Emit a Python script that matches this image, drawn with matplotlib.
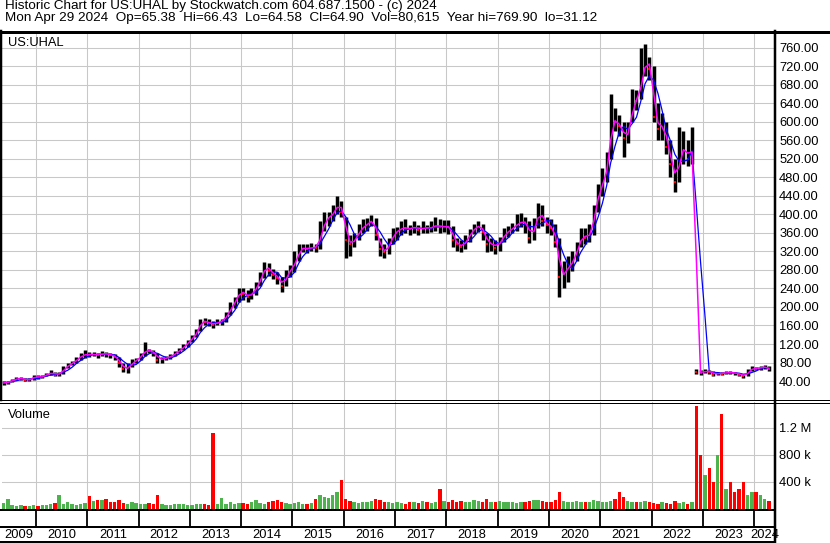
import pandas as pd
import matplotlib.pyplot as plt
from matplotlib.lines import Line2D

plt.rcParams['font.family'] = ['Liberation Sans', 'DejaVu Sans']

# monthly bars, May 2009 .. Apr 2024
months = pd.date_range("2009-05-01", "2024-04-01", freq="MS") + pd.Timedelta(days=14)

close = [
    36, 38, 43, 45, 46, 41, 44, 50,                                  # 2009
    48, 50, 55, 58, 54, 56, 68, 75, 80, 88, 95, 98,                  # 2010
    97, 98, 96, 100, 98, 96, 92, 78, 65, 70, 82, 86,                 # 2011
    96, 108, 105, 100, 86, 88, 90, 95, 100, 108, 115, 125,           # 2012
    135, 148, 170, 168, 165, 162, 168, 170, 184, 200, 215, 235,      # 2013
    228, 222, 230, 245, 265, 290, 278, 270, 262, 245, 272, 282,      # 2014
    300, 325, 328, 325, 330, 328, 360, 390, 395, 405, 425, 405,      # 2015
    345, 335, 348, 365, 375, 380, 390, 355, 325, 318, 338, 360,      # 2016
    365, 372, 370, 368, 375, 366, 372, 370, 372, 378, 372, 375,      # 2017
    372, 345, 335, 330, 345, 360, 372, 376, 362, 335, 338, 328,      # 2018
    345, 358, 365, 372, 380, 385, 382, 350, 375, 410, 385, 378,      # 2019
    370, 340, 265, 275, 290, 300, 330, 355, 350, 360, 410, 455,      # 2020
    470, 515, 605, 600, 590, 565, 580, 650, 645, 700, 735, 715,      # 2021
    610, 585, 595, 545, 510, 470, 535, 545, 520, 550, 60, 58,        # 2022
    62, 60, 54, 57, 56, 59, 58, 57, 54, 50, 62, 68,                  # 2023
    67, 70, 70, 65,                                                  # 2024
]
high = [
    39, 41, 45, 48, 49, 47, 46, 52,
    52, 53, 58, 63, 60, 60, 72, 80, 84, 92, 100, 107,
    103, 102, 100, 104, 103, 100, 99, 92, 80, 78, 88, 90,
    100, 124, 110, 108, 100, 92, 94, 98, 105, 112, 120, 128,
    140, 152, 175, 176, 174, 170, 175, 175, 190, 210, 222, 240,
    240, 236, 240, 255, 275, 298, 295, 282, 275, 265, 280, 290,
    320, 335, 335, 335, 338, 336, 385, 405, 405, 420, 440, 430,
    395, 355, 360, 380, 390, 392, 398, 392, 350, 335, 350, 370,
    372, 385, 390, 378, 385, 378, 385, 378, 385, 395, 390, 388,
    388, 375, 350, 345, 355, 368, 380, 385, 380, 360, 350, 345,
    352, 370, 375, 382, 400, 402, 395, 385, 392, 425, 420, 395,
    390, 380, 350, 300, 310, 320, 340, 370, 370, 380, 420, 465,
    500, 535, 660, 630, 615, 600, 600, 670, 668, 760, 769, 740,
    720, 640, 620, 600, 560, 520, 589, 580, 560, 589, 65, 64,
    66, 64, 61, 60, 59, 62, 61, 60, 58, 54, 66, 72,
    71, 72, 74, 72,
]
low = [
    31, 34, 37, 42, 42, 39, 40, 43,
    44, 46, 50, 54, 50, 51, 55, 68, 74, 80, 86, 90,
    92, 93, 90, 95, 92, 90, 85, 70, 60, 58, 70, 80,
    85, 95, 100, 95, 78, 80, 85, 88, 94, 100, 108, 114,
    125, 135, 148, 160, 158, 155, 160, 162, 168, 183, 198, 210,
    215, 210, 218, 225, 245, 262, 268, 260, 250, 232, 245, 265,
    275, 300, 318, 316, 320, 318, 325, 365, 375, 385, 400, 395,
    306, 310, 330, 345, 360, 365, 375, 345, 310, 305, 315, 335,
    345, 355, 360, 355, 360, 355, 360, 360, 362, 365, 360, 362,
    358, 330, 322, 318, 325, 340, 358, 362, 345, 318, 322, 315,
    322, 340, 352, 360, 365, 372, 360, 338, 345, 370, 375, 360,
    355, 330, 222, 240, 255, 278, 300, 330, 335, 340, 355, 405,
    440, 470, 520, 580, 570, 525, 555, 600, 625, 650, 700, 690,
    600, 560, 560, 530, 480, 449, 470, 510, 505, 510, 55, 54,
    58, 56, 50, 53, 52, 55, 55, 54, 50, 47, 50, 62,
    63, 64, 66, 62,
]
# biggest weekly volume in each month, thousands of shares
volume_k = [
    90, 150, 60, 50, 60, 45, 50, 60,
    50, 60, 55, 80, 90, 200, 70, 110, 75, 60, 80, 90,
    190, 120, 130, 140, 150, 110, 100, 130, 90, 80, 100, 90,
    80, 70, 90, 70, 200, 80, 60, 60, 70, 70, 80, 60,
    60, 70, 80, 70, 60, 1120, 80, 160, 70, 100, 80, 90,
    90, 80, 100, 140, 90, 80, 100, 120, 140, 110, 90, 80,
    90, 110, 80, 70, 90, 150, 200, 180, 160, 200, 250, 430,
    150, 120, 100, 90, 110, 100, 120, 150, 130, 110, 100, 90,
    100, 90, 80, 110, 100, 90, 120, 100, 90, 110, 300, 120,
    110, 130, 100, 120, 110, 100, 130, 120, 100, 150, 110, 100,
    120, 100, 110, 100, 90, 100, 110, 120, 130, 140, 120, 100,
    110, 130, 250, 120, 110, 100, 120, 110, 100, 110, 130, 120,
    110, 100, 120, 150, 250, 180, 120, 110, 100, 110, 120, 110,
    90, 80, 100, 90, 80, 120, 90, 100, 80, 110, 1530, 800,
    500, 600, 400, 800, 1400, 300, 400, 250, 300, 400, 200, 250,
    250, 200, 150, 120,
]

years = list(range(2009, 2025))
price_ticks = list(range(40, 761, 40))
volume_ticks = [400, 800, 1200]
volume_labels = ["400 k", "800 k", "1.2 M"]

title1 = "Historic Chart for US:UHAL by Stockwatch.com 604.687.1500 - (c) 2024"
title2 = ("Mon Apr 29 2024  Op=65.38  Hi=66.43  Lo=64.58  Cl=64.90  "
          "Vol=80,615  Year hi=769.90  lo=31.12")

df = pd.DataFrame({"close": close, "high": high, "low": low, "vol": volume_k}, index=months)
df["ma_fast"] = df["close"].rolling(2, min_periods=1).mean()
df["ma_slow"] = df["close"].rolling(4, min_periods=1).mean()
down = df["close"].diff() < 0

W, H = 830, 543
fig = plt.figure(figsize=(W / 100, H / 100), dpi=100)


def box(x0, y0, x1, y1):
    # pixel box (top-left origin) -> figure fraction rect
    return [x0 / W, 1 - y1 / H, (x1 - x0) / W, (y1 - y0) / H]


def hline(y, x0=0, x1=W, lw=2):
    fig.add_artist(Line2D([x0 / W, x1 / W], [1 - y / H, 1 - y / H],
                          transform=fig.transFigure, color="black", lw=lw * 0.72))


def vline(x, y0, y1, lw=2):
    fig.add_artist(Line2D([x / W, x / W], [1 - y0 / H, 1 - y1 / H],
                          transform=fig.transFigure, color="black", lw=lw * 0.72))


xlim = (pd.Timestamp("2009-05-04"), pd.Timestamp("2024-05-28"))
year_starts = [pd.Timestamp(f"{y}-01-01") for y in years[1:]]
grid_col = "#c8c8c8"
fs = 9.3

ax = fig.add_axes(box(2, 33, 775, 400))
axv = fig.add_axes(box(2, 402, 775, 509))
axy = fig.add_axes(box(2, 509, 775, 542))

# price panel
ax.vlines(df.index, df["low"], df["high"], color="black", lw=2.5)
ax.plot(df.index[down], df["close"][down], "s", color="red", ms=2, mew=0)
ax.plot(df.index, df["ma_slow"], color="#0000ff", lw=0.9)
ax.plot(df.index, df["ma_fast"], color="#ff00ff", lw=1.1)
ax.set_xlim(xlim)
ax.set_ylim(-1, 792)
ax.set_yticks(price_ticks)
ax.set_yticklabels([f"{t:.2f}" for t in price_ticks])
ax.text(0.008, 0.99, "US:UHAL", transform=ax.transAxes, ha="left", va="top", fontsize=fs)

# volume panel
vol_colors = ["#ff0000" if d else "#4db34d" for d in down]
axv.bar(df.index, df["vol"], width=24, color=vol_colors, lw=0)
axv.set_xlim(xlim)
axv.set_ylim(0, 1585)
axv.set_yticks(volume_ticks)
axv.set_yticklabels(volume_labels)
axv.text(0.008, 0.93, "Volume", transform=axv.transAxes, ha="left", va="top", fontsize=fs)

for a in (ax, axv):
    a.set_xticks(year_starts)
    a.set_xticklabels([])
    a.yaxis.tick_right()
    a.tick_params(axis="both", length=0, labelsize=fs, pad=3)
    a.grid(True, color=grid_col, lw=0.75)
    a.set_axisbelow(True)
    for s in a.spines.values():
        s.set_visible(False)

# year strip
axy.set_xlim(xlim)
axy.set_ylim(0, 1)
axy.axis("off")
axy.vlines(year_starts, 0.45, 1, color="black", lw=1.3)
for y in years:
    a0 = max(pd.Timestamp(f"{y}-01-01"), xlim[0])
    a1 = min(pd.Timestamp(f"{y + 1}-01-01"), xlim[1])
    mid = a0 + (a1 - a0) / 2
    axy.text(mid, 0.2, str(y), ha="center", va="center", fontsize=fs)

# frame lines
hline(31.5, lw=3)
hline(400, lw=1)
hline(402.5, lw=1)
hline(509.5, 0, 775, lw=2)
hline(527, 0, 775, lw=2)
hline(541.5, 0, 775, lw=2)
vline(775, 31, 543, lw=2.5)
vline(1, 31, 400, lw=2.5)

fig.text(5 / W, 1 - 0.5 / H, title1, ha="left", va="top", fontsize=9.7)
fig.text(5 / W, 1 - 12 / H, title2, ha="left", va="top", fontsize=9.7)

fig.savefig("out.png", dpi=100, facecolor="white")
